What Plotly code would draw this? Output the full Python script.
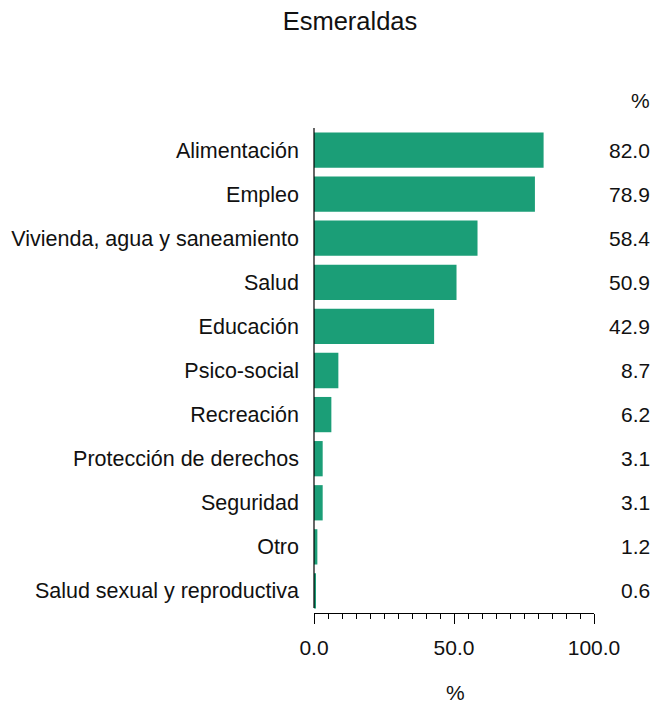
import plotly.graph_objects as go

categories = ["Alimentación", "Empleo", "Vivienda, agua y saneamiento", "Salud",
              "Educación", "Psico-social", "Recreación", "Protección de derechos",
              "Seguridad", "Otro", "Salud sexual y reproductiva"]
values = [82.0, 78.9, 58.4, 50.9, 42.9, 8.7, 6.2, 3.1, 3.1, 1.2, 0.6]
title_text = "Esmeraldas"
unit_label = "%"

FONT = "Liberation Sans, Arial, sans-serif"
BAR_COLOR = "#1b9e77"

# page body has an 8px margin; lay out in reference pixels shifted by OFF
OFF = 8
W, H = 659 - OFF, 705 - OFF
ML, MT = 314 - OFF, 128 - OFF
PLOT_R, PLOT_B = 594 - OFF, 613 - OFF
MR, MB = W - PLOT_R, H - PLOT_B
PW = PLOT_R - ML
PH = PLOT_B - MT


def px(xr):
    return (xr - OFF - ML) / PW


def py(yr):
    return (PLOT_B - (yr - OFF)) / PH


fig = go.Figure(go.Bar(
    x=values, y=categories, orientation="h",
    marker=dict(color=BAR_COLOR, line=dict(width=0)),
    hoverinfo="x+y",
))

TXT = dict(family=FONT, size=21, color="#111111")
annotations = []
for c, v in zip(categories, values):
    annotations.append(dict(
        x=px(652), xref="paper", y=c, yref="y",
        text=f"{v:.1f}", showarrow=False, xanchor="right", yanchor="middle",
        font=TXT,
    ))
annotations.append(dict(
    x=px(652), xref="paper", y=py(101), yref="paper",
    text=unit_label, showarrow=False, xanchor="right", yanchor="middle",
    font=TXT,
))
annotations.append(dict(
    x=px(455), xref="paper", y=py(692), yref="paper",
    text=unit_label, showarrow=False, xanchor="center", yanchor="middle",
    font=TXT,
))

# left axis line stops a few pixels short of the bottom axis, as in the reference
shapes = [dict(type="line", xref="paper", yref="paper", x0=0, x1=0,
               y0=py(608), y1=1, line=dict(color="black", width=1.2), layer="above")]

fig.update_layout(
    width=W, height=H,
    margin=dict(l=ML, r=MR, t=MT, b=MB, pad=0, autoexpand=False),
    paper_bgcolor="white", plot_bgcolor="white",
    bargap=0.2,
    showlegend=False,
    font=TXT,
    title=dict(text=title_text, x=(350 - OFF) / W, xref="container", xanchor="center",
               y=1 - (21 - OFF) / H, yref="container", yanchor="middle",
               font=dict(family=FONT, size=25.5, color="#111111")),
    annotations=annotations,
    shapes=shapes,
    xaxis=dict(
        range=[0, 100], dtick=50, tick0=0, tickformat=".1f",
        showgrid=False, zeroline=False,
        showline=True, linecolor="black", linewidth=1.2,
        ticks="outside", ticklen=10, tickcolor="black", tickwidth=1.2,
        ticklabelstandoff=6,
        tickfont=dict(family=FONT, size=21, color="#111111"),
        minor=dict(dtick=5, tick0=0, ticks="outside", ticklen=5,
                   tickcolor="black", tickwidth=1.2, showgrid=False),
        automargin=False,
        fixedrange=True,
    ),
    yaxis=dict(
        categoryorder="array", categoryarray=categories, autorange="reversed",
        showgrid=False, zeroline=False,
        showline=False,
        ticks="", ticklabelstandoff=14,
        tickfont=dict(family=FONT, size=21.5, color="#111111"),
        automargin=False,
        fixedrange=True,
    ),
)

fig.write_html("out.html")
